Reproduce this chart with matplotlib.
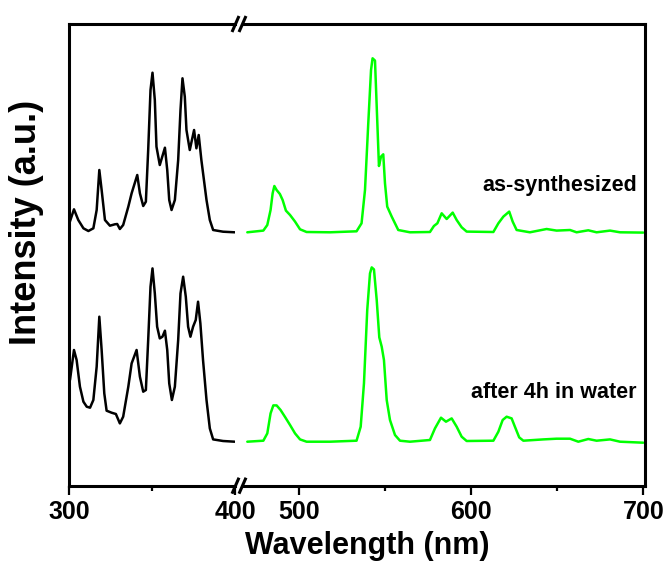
import matplotlib
matplotlib.use("Agg")
import matplotlib.pyplot as plt
from matplotlib.lines import Line2D

plt.rcParams['font.family'] = ['Liberation Sans', 'DejaVu Sans']
plt.rcParams['font.weight'] = 'bold'

# excitation spectra (left part, black)
exc_nm_top = [300.0, 302.8, 305.4, 308.5, 311.5, 314.5, 316.5, 318.1, 319.5, 321.5,
              324.5, 327.5, 328.9, 330.5, 332.5, 335.6, 337.6, 341.0, 342.6, 344.6,
              346.2, 347.6, 349.0, 350.2, 351.6, 352.6, 354.6, 357.7, 359.1, 360.3,
              361.7, 363.7, 365.7, 367.1, 368.3, 369.7, 370.7, 372.7, 375.3, 376.7,
              378.1, 379.7, 382.8, 384.8, 386.8, 392.8, 399.8]
exc_top = [9, 23, 12.3, 4, 1.3, 4, 22.3, 62.3, 42.3, 12.3,
           6.6, 8, 8.3, 3.3, 7.3, 25.6, 39, 57.3, 39, 26.3,
           30.6, 82.3, 142.3, 159.6, 132.3, 85.6, 67.3, 84.6, 62.3, 32.3,
           22.3, 32.3, 72.3, 122.3, 154, 135.6, 102.3, 82.3, 102.3, 84,
           97.3, 72.3, 32.3, 12.3, 2.3, 0.6, 0]

exc_nm_bot = [300.4, 302.8, 304.4, 306.4, 308.5, 310.5, 312.5, 314.5, 316.5, 318.1,
              319.5, 321.1, 322.5, 325.5, 328.1, 330.5, 332.5, 335.6, 337.6, 340.6,
              342.6, 344.6, 346.2, 347.6, 349.0, 350.2, 351.6, 353.0, 354.6, 356.2,
              357.7, 359.1, 360.3, 361.9, 363.7, 365.7, 367.1, 368.7, 370.3, 371.7,
              373.1, 374.7, 376.3, 377.7, 379.1, 380.7, 382.8, 384.8, 386.8, 392.8, 399.8]
exc_bot = [61.7, 91.7, 81.7, 55, 40, 35, 34, 41.7, 75, 125,
           91.7, 48.3, 31, 29, 27.7, 18.3, 25, 55, 78.3, 91.7,
           65, 50, 51.7, 101.7, 155, 173.3, 148.3, 115, 103.3, 105,
           111, 91.7, 58.3, 41.7, 55, 101.7, 148.3, 165, 145, 115,
           105, 115, 121.7, 140, 118.3, 81.7, 41.7, 13.3, 2.3, 0.7, 0]

# emission spectra (right part, green)
em_nm_top = [470.2, 479.5, 481.8, 483.7, 484.9, 485.9, 487.2, 489.1, 490.7, 492.6,
             495.0, 497.9, 500.8, 504.6, 518.2, 533.6, 536.5, 538.5, 540.4, 542.0,
             542.9, 544.3, 545.3, 546.6, 547.8, 549.1, 550.1, 551.4, 554.0, 555.9,
             557.8, 564.6, 576.2, 578.5, 580.5, 583.0, 585.9, 589.4, 591.7, 594.6,
             597.5, 613.0, 615.9, 618.8, 622.2, 624.2, 626.5, 634.2, 643.9, 649.7,
             657.5, 661.3, 668.1, 672.9, 680.7, 686.5, 700.0]
em_top = [0, 1.7, 7.3, 22.3, 39, 46.3, 42.3, 38.3, 32.3, 21.7,
          17.3, 10.7, 3, 0.3, 0, 1, 9, 42.3, 109, 162.3,
          174, 171.7, 125.7, 66.3, 75.7, 78, 49, 25.7, 15.7, 9,
          2.3, 0, 0.3, 6.3, 9, 19, 13.3, 19.7, 12.3, 5,
          0.7, 0.3, 9, 15.7, 20.7, 10.7, 2.3, 0, 3.3, 1.7,
          2.3, 0, 2, 0, 1.7, 0, -0.3]

em_nm_bot = [470.2, 479.5, 481.8, 483.7, 485.3, 487.2, 489.5, 492.0, 495.0, 497.9,
             500.8, 504.6, 518.2, 533.6, 536.0, 537.9, 539.8, 541.4, 542.4, 543.7,
             545.3, 546.8, 548.2, 549.5, 551.1, 553.0, 555.9, 558.8, 564.6, 576.2,
             579.1, 582.6, 585.5, 588.8, 591.7, 594.6, 597.5, 613.0, 615.9, 618.4,
             620.7, 623.6, 625.5, 628.0, 630.4, 642.0, 649.7, 657.5, 662.3, 668.1,
             672.9, 680.7, 686.5, 700.0]
em_bot = [0, 1, 8.3, 28.3, 36.3, 36.3, 31.7, 25, 16.7, 8.3,
          2.3, 0, 0, 1, 15, 58.3, 131.7, 168.3, 174.3, 172.3,
          141.7, 104.3, 95, 81.7, 41.7, 21.7, 6.7, 1, 0, 1.7,
          13.3, 24, 20, 23.3, 15, 5, 0.7, 1, 10, 21.7,
          25, 23.3, 15, 4.3, 1, 2.3, 3, 3, 0, 2.7,
          1, 2.3, 0, -1]

offset_top = 253.4
offset_bot = 44.0

W, H = 670, 567
fig = plt.figure(figsize=(6.7, 5.67), dpi=100)

bottom = (H - 485.7) / H
height = (485.7 - 24) / H
ax1 = fig.add_axes([69 / W, bottom, (235 - 69) / W, height])
ax2 = fig.add_axes([243 / W, bottom, (645 - 243) / W, height])

line_kw = dict(lw=1.8, solid_joinstyle='round', solid_capstyle='round')
ax1.plot(exc_nm_top, [v + offset_top for v in exc_top], color='black', **line_kw)
ax1.plot(exc_nm_bot, [v + offset_bot for v in exc_bot], color='black', **line_kw)
ax2.plot(em_nm_top, [v + offset_top for v in em_top], color='#00ff00', **line_kw)
ax2.plot(em_nm_bot, [v + offset_bot for v in em_bot], color='#00ff00', **line_kw)

ax1.set_xlim(299.8, 400)
ax2.set_xlim(467.7, 701)
for ax in (ax1, ax2):
    ax.set_ylim(0, 461.7)
    ax.set_yticks([])
    for s in ax.spines.values():
        s.set_linewidth(2.2)
    ax.tick_params(axis='x', which='major', direction='out', length=6.5, width=1.6,
                   labelsize=18, pad=4)
    ax.tick_params(axis='x', which='minor', direction='out', length=3.5, width=1.6)
    for lab in ax.get_xticklabels():
        lab.set_fontweight('bold')

ax1.spines['right'].set_visible(False)
ax2.spines['left'].set_visible(False)
ax1.set_xticks([300, 400])
ax1.set_xticks([350], minor=True)
ax2.set_xticks([500, 600, 700])
ax2.set_xticks([550, 650], minor=True)

# break marks
for xc in (235.5, 242.5):
    for yc in (24, 485.7):
        fig.add_artist(Line2D([(xc - 3.5) / W, (xc + 3.5) / W],
                              [(H - yc - 8) / H, (H - yc + 8) / H],
                              color='black', lw=2.2, solid_capstyle='butt'))

ax2.text(0.9796, 0.639, 'as-synthesized', transform=ax2.transAxes,
         ha='right', va='baseline', fontsize=15.5, fontweight='bold')
ax2.text(0.9796, 0.19, 'after 4h in water', transform=ax2.transAxes,
         ha='right', va='baseline', fontsize=15.5, fontweight='bold')

fig.text(367 / W, 1 - 546 / H, 'Wavelength (nm)', ha='center', va='center',
         fontsize=22, fontweight='bold')
fig.text(27 / W, 1 - 222 / H, 'Intensity (a.u.)', ha='center', va='center',
         rotation=90, fontsize=26, fontweight='bold')

fig.savefig('out.png', dpi=100)
